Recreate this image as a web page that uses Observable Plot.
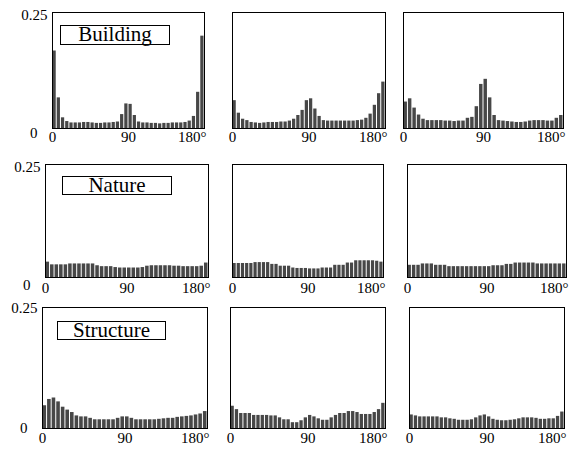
<!DOCTYPE html>
<html><head><meta charset="utf-8">
<script src="https://cdn.jsdelivr.net/npm/d3@7"></script>
<script src="https://cdn.jsdelivr.net/npm/@observablehq/plot@0.6"></script>
<style>
body{margin:0;background:#fff;}
#chart{position:relative;width:575px;height:449px;font-family:"Liberation Serif","Times New Roman",serif;overflow:hidden;}
#chart svg{position:absolute;overflow:visible;background:transparent;}
.lbl{position:absolute;border:1px solid #000;background:#fff;font-size:21px;text-align:center;box-sizing:border-box;color:#000;font-family:"Liberation Serif","Times New Roman",serif;}
</style></head><body><div id="chart"></div>
<script>
// categories (rows) and orientation bins (5 degree each, 0..180)
const categories = ["Building", "Nature", "Structure"];
const binWidth = 5;
const xTicks = [0, 90, 180];
const xTickLabels = ["0", "90", "180°"];
const yTicks = [0, 0.25];
const yTickLabels = ["0", "0.25"];

// histogram values, one array per panel (row = category, column = 1..3)
const building1 = [0.167,0.066,0.023,0.015,0.012,0.012,0.012,0.013,0.013,0.012,0.011,0.011,0.012,0.012,0.013,0.014,0.030,0.053,0.052,0.028,0.014,0.012,0.012,0.011,0.011,0.010,0.011,0.011,0.012,0.012,0.012,0.013,0.016,0.026,0.078,0.199];
const building2 = [0.060,0.033,0.020,0.017,0.013,0.012,0.011,0.012,0.013,0.013,0.013,0.014,0.014,0.016,0.020,0.028,0.039,0.060,0.064,0.042,0.026,0.017,0.016,0.016,0.016,0.016,0.016,0.016,0.016,0.017,0.018,0.022,0.031,0.050,0.075,0.100];
const building3 = [0.057,0.064,0.044,0.029,0.020,0.017,0.017,0.017,0.017,0.016,0.016,0.015,0.016,0.016,0.022,0.024,0.047,0.095,0.106,0.066,0.028,0.017,0.016,0.015,0.014,0.013,0.013,0.014,0.016,0.017,0.017,0.017,0.016,0.016,0.022,0.028];
const nature1 = [0.034,0.028,0.028,0.028,0.028,0.030,0.030,0.030,0.030,0.030,0.030,0.026,0.024,0.024,0.024,0.022,0.021,0.021,0.021,0.021,0.021,0.022,0.025,0.026,0.026,0.026,0.026,0.026,0.025,0.025,0.024,0.024,0.024,0.024,0.025,0.032];
const nature2 = [0.031,0.031,0.031,0.031,0.031,0.033,0.033,0.033,0.033,0.029,0.029,0.025,0.025,0.025,0.021,0.020,0.020,0.020,0.019,0.019,0.019,0.021,0.021,0.021,0.027,0.027,0.027,0.032,0.032,0.037,0.037,0.037,0.037,0.037,0.036,0.034];
const nature3 = [0.027,0.027,0.027,0.030,0.030,0.030,0.027,0.027,0.027,0.024,0.024,0.024,0.024,0.024,0.024,0.024,0.024,0.024,0.024,0.026,0.026,0.026,0.029,0.029,0.032,0.032,0.032,0.032,0.032,0.030,0.030,0.030,0.030,0.030,0.030,0.030];
const structure1 = [0.047,0.060,0.063,0.055,0.044,0.038,0.033,0.026,0.024,0.024,0.021,0.018,0.018,0.018,0.018,0.018,0.021,0.024,0.024,0.021,0.018,0.018,0.018,0.018,0.018,0.019,0.020,0.021,0.021,0.023,0.024,0.025,0.026,0.028,0.030,0.035];
const structure2 = [0.046,0.039,0.031,0.031,0.031,0.027,0.027,0.027,0.027,0.026,0.026,0.022,0.018,0.018,0.012,0.012,0.016,0.022,0.027,0.024,0.020,0.017,0.017,0.022,0.027,0.031,0.031,0.035,0.035,0.033,0.029,0.029,0.029,0.033,0.039,0.052];
const structure3 = [0.028,0.026,0.024,0.024,0.024,0.024,0.024,0.022,0.022,0.020,0.019,0.017,0.017,0.017,0.018,0.022,0.026,0.028,0.024,0.019,0.017,0.016,0.016,0.017,0.018,0.020,0.022,0.022,0.022,0.021,0.019,0.019,0.020,0.020,0.025,0.034];

const panelData = [
  [building1, building2, building3],
  [nature1, nature2, nature3],
  [structure1, structure2, structure3]
];

// layout (pixels) of each panel frame
const rowLayout = [
  {top: 12, bottom: 128, xdy: 9, y0dy: 5, y25dy: 3, box: {left: 60, top: 25, w: 110, h: 20}},
  {top: 164, bottom: 277, xdy: 11, y0dy: 8, y25dy: 3, box: {left: 62, top: 176, w: 110, h: 19}},
  {top: 307, bottom: 428, xdy: 10, y0dy: 0, y25dy: 1, box: {left: 57, top: 321, w: 109, h: 19}}
];
const colLayout = [
  [[52, 204], [232, 385], [403, 563]],
  [[45, 208], [232, 383], [407, 566]],
  [[42, 207], [230, 385], [409, 564]]
];

const chart = document.getElementById("chart");
const mL = 50, mR = 12, mT = 6, mB = 22;
const font = "Liberation Serif, Times New Roman, serif";
const txt = {fill: "#000", fontFamily: font, fontSize: 15};

panelData.forEach((rowArr, r) => {
  const rl = rowLayout[r];
  rowArr.forEach((vals, c) => {
    const [x0, x1] = colLayout[r][c];
    const data = vals.map((v, i) => ({a: i * binWidth, b: (i + 1) * binWidth, v}));
    const marks = [
      Plot.rectY(data, {x1: "a", x2: "b", y: "v", fill: "#474747", insetLeft: 0.5, insetRight: 0.5}),
      Plot.frame({stroke: "#000", strokeWidth: 1}),
      Plot.text(xTicks.slice(0, 2), {...txt, x: d => d, text: (d, i) => xTickLabels[i], frameAnchor: "bottom", lineAnchor: "middle", dy: rl.xdy}),
      Plot.text(xTicks.slice(2), {...txt, x: d => d, text: (d, i) => xTickLabels[2 + i], frameAnchor: "bottom", lineAnchor: "middle", textAnchor: "end", dx: 2, dy: rl.xdy})
    ];
    if (c === 0) {
      marks.push(
        Plot.text([yTicks[1]], {...txt, y: d => d, text: () => yTickLabels[1], frameAnchor: "left", textAnchor: "end", dx: -5, dy: rl.y25dy}),
        Plot.text([yTicks[0]], {...txt, y: d => d, text: () => yTickLabels[0], frameAnchor: "left", textAnchor: "end", dx: -15, dy: rl.y0dy})
      );
    }
    const svg = Plot.plot({
      width: (x1 - x0) + mL + mR,
      height: (rl.bottom - rl.top) + mT + mB,
      marginLeft: mL, marginRight: mR, marginTop: mT, marginBottom: mB,
      x: {domain: [0, 180], axis: null},
      y: {domain: [0, 0.25], axis: null},
      style: {fontFamily: font, fontSize: "15px", background: "transparent", overflow: "visible", color: "#000"},
      marks
    });
    svg.style.left = (x0 - mL) + "px";
    svg.style.top = (rl.top - mT) + "px";
    chart.appendChild(svg);
  });
  const b = rl.box;
  const div = document.createElement("div");
  div.className = "lbl";
  div.style.left = b.left + "px";
  div.style.top = b.top + "px";
  div.style.width = b.w + "px";
  div.style.height = b.h + "px";
  div.style.lineHeight = (b.h - 3) + "px";
  div.textContent = categories[r];
  chart.appendChild(div);
});
</script>
</body></html>
